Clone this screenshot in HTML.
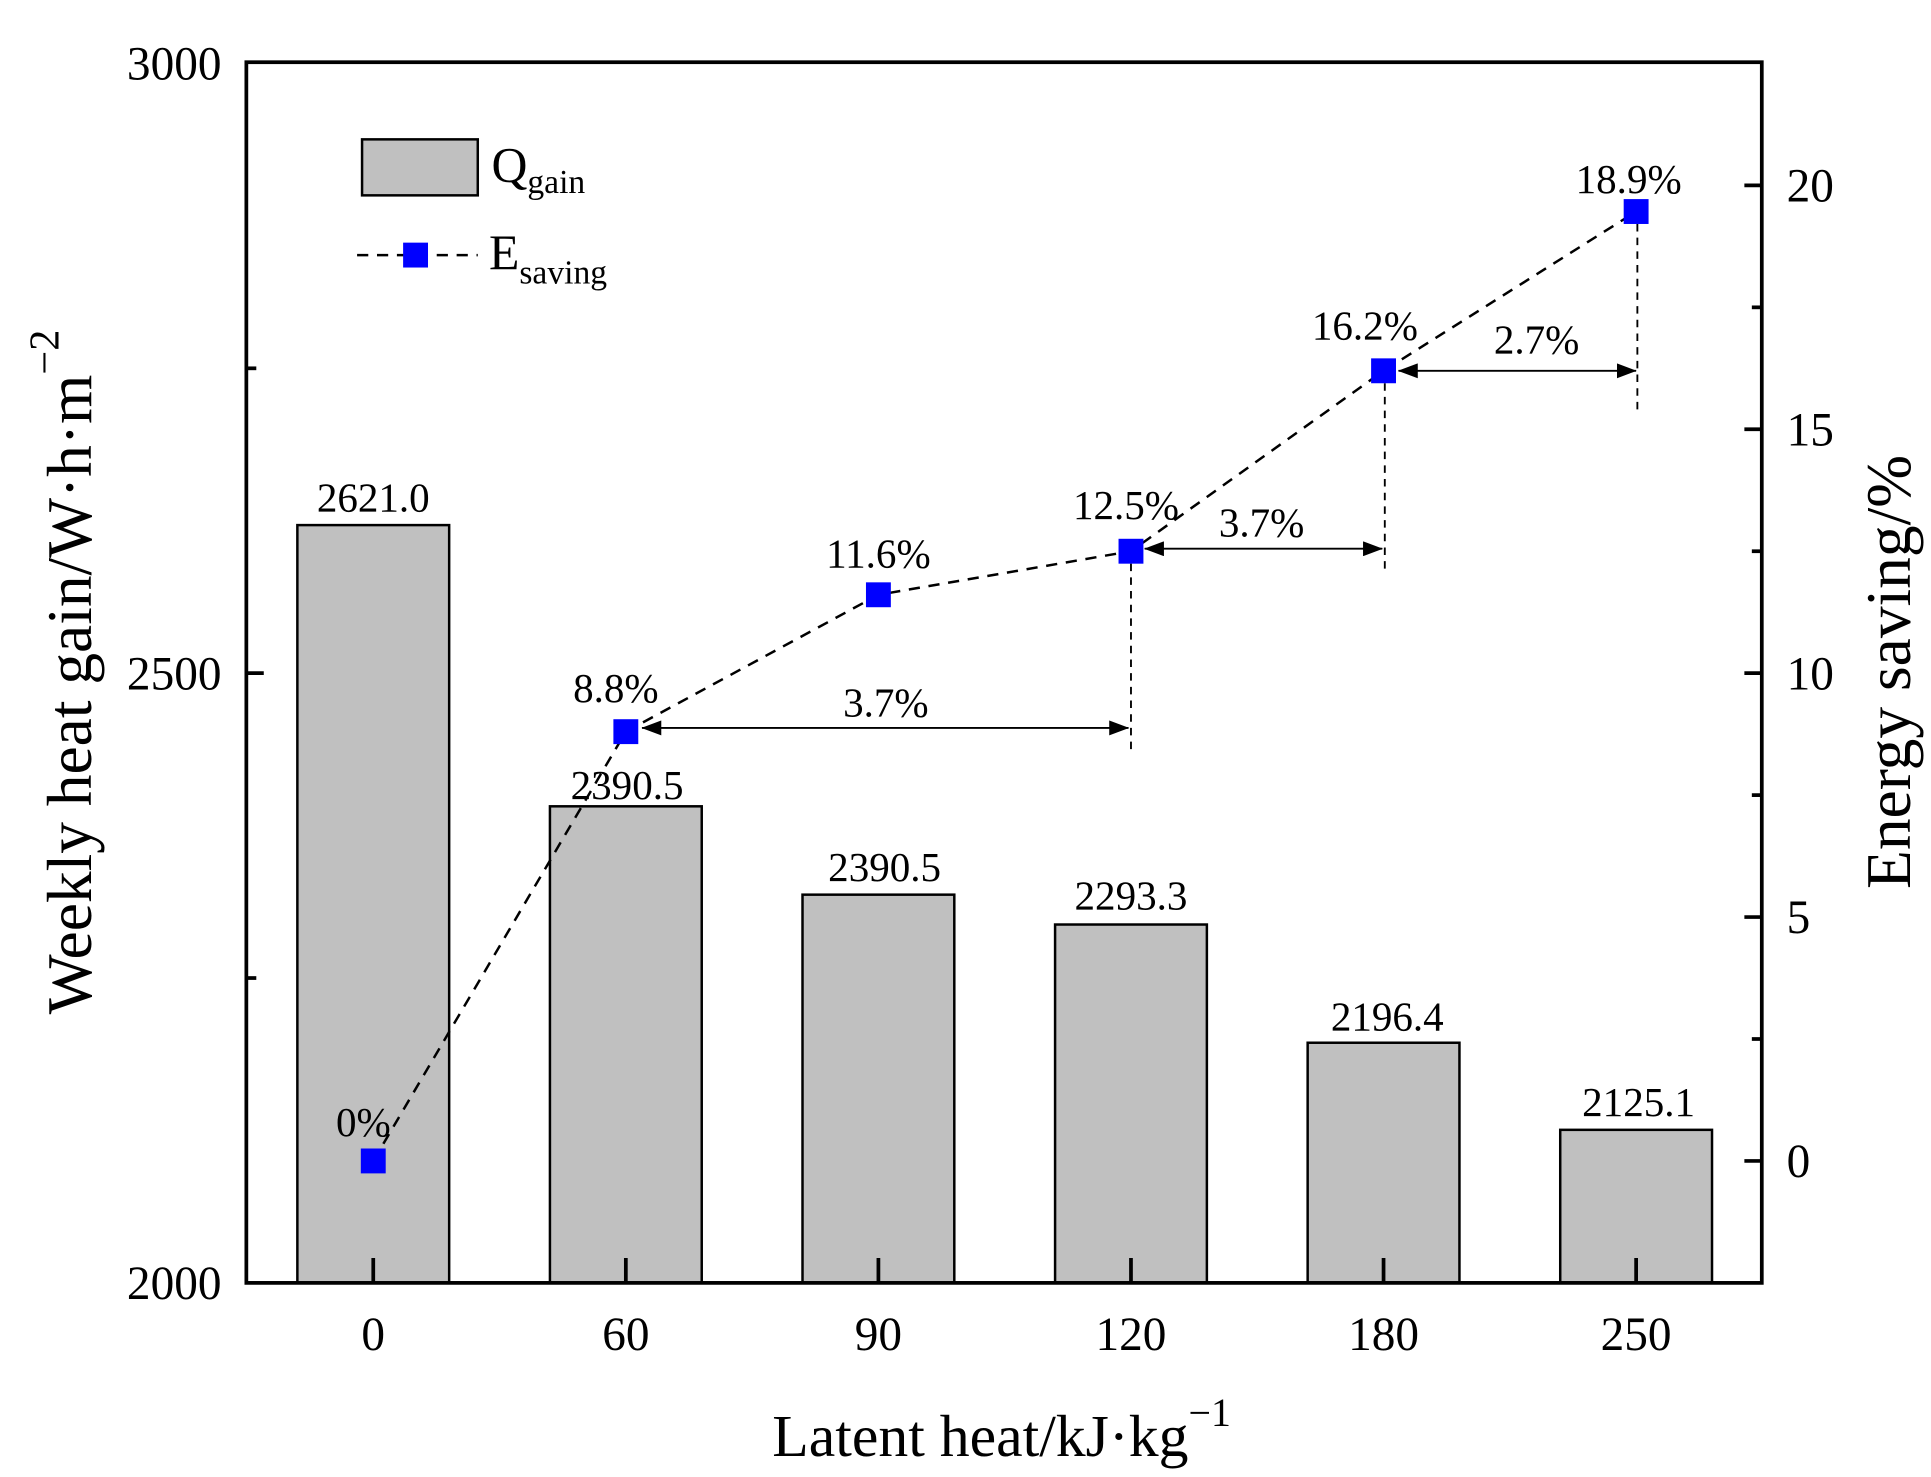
<!DOCTYPE html>
<html><head><meta charset="utf-8"><style>
html,body{margin:0;padding:0;background:#fff;}
svg{display:block;}
text{font-family:"Liberation Serif",serif;fill:#000;}
</style></head><body>
<svg width="1931" height="1477" viewBox="0 0 1552 1187" preserveAspectRatio="none" xmlns="http://www.w3.org/2000/svg">
<defs>
<marker id="ah" markerWidth="16" markerHeight="12" refX="15.5" refY="6" orient="auto-start-reverse" markerUnits="userSpaceOnUse"><path d="M0,0 L16,6 L0,12 Z" fill="#000"/></marker>
</defs>
<rect width="1552" height="1187" fill="#fff"/>
<g fill="#c0c0c0" stroke="#000" stroke-width="2">
<rect x="239" y="422" width="122" height="609"/>
<rect x="442" y="648" width="122" height="383"/>
<rect x="645" y="719" width="122" height="312"/>
<rect x="848" y="743" width="122" height="288"/>
<rect x="1051" y="838" width="122" height="193"/>
<rect x="1254" y="908" width="122" height="123"/>
</g>
<rect x="198" y="50" width="1218" height="981" fill="none" stroke="#000" stroke-width="3"/>
<g stroke="#000" stroke-width="3">
<line x1="198" y1="541" x2="212" y2="541"/><line x1="198" y1="296" x2="206" y2="296"/><line x1="198" y1="786" x2="206" y2="786"/>
<line x1="1416" y1="933" x2="1402" y2="933"/><line x1="1416" y1="737" x2="1402" y2="737"/><line x1="1416" y1="541" x2="1402" y2="541"/><line x1="1416" y1="345" x2="1402" y2="345"/><line x1="1416" y1="149" x2="1402" y2="149"/>
<line x1="1416" y1="835" x2="1408" y2="835"/><line x1="1416" y1="639" x2="1408" y2="639"/><line x1="1416" y1="443" x2="1408" y2="443"/><line x1="1416" y1="247" x2="1408" y2="247"/>
<line x1="300" y1="1031" x2="300" y2="1011"/><line x1="503" y1="1031" x2="503" y2="1011"/><line x1="706" y1="1031" x2="706" y2="1011"/><line x1="909" y1="1031" x2="909" y2="1011"/><line x1="1112" y1="1031" x2="1112" y2="1011"/><line x1="1315" y1="1031" x2="1315" y2="1011"/>
</g>
<g font-size="38" text-anchor="end">
<text x="178" y="64">3000</text><text x="178" y="554">2500</text><text x="178" y="1044">2000</text>
</g>
<g font-size="38" text-anchor="start">
<text x="1436" y="946">0</text><text x="1436" y="750">5</text><text x="1436" y="554">10</text><text x="1436" y="358">15</text><text x="1436" y="162">20</text>
</g>
<g font-size="38" text-anchor="middle">
<text x="300" y="1085">0</text><text x="503" y="1085">60</text><text x="706" y="1085">90</text><text x="909" y="1085">120</text><text x="1112" y="1085">180</text><text x="1315" y="1085">250</text>
</g>
<text x="805" y="1170" font-size="48" text-anchor="middle">Latent heat/kJ·kg<tspan font-size="32" dy="-24">−1</tspan></text>
<text transform="translate(73,540) rotate(-90)" font-size="51" text-anchor="middle">Weekly heat gain/W·h·m<tspan font-size="34" dy="-26">−2</tspan></text>
<text transform="translate(1535,540) rotate(-90)" font-size="51" text-anchor="middle">Energy saving/%</text>
<g font-size="33" text-anchor="middle">
<text x="300" y="411">2621.0</text><text x="504" y="642">2390.5</text><text x="711" y="708">2390.5</text><text x="909" y="731">2293.3</text><text x="1115" y="828">2196.4</text><text x="1317" y="897">2125.1</text>
</g>
<polyline points="300,933 503,588 706,478 909,443 1112,298 1315,170" fill="none" stroke="#000" stroke-width="2" stroke-dasharray="9,7"/>
<g stroke="#000" stroke-width="1.5" stroke-dasharray="6,5">
<line x1="909" y1="453" x2="909" y2="605"/>
<line x1="1113" y1="308" x2="1113" y2="458"/>
<line x1="1316" y1="180" x2="1316" y2="330"/>
</g>
<g stroke="#000" stroke-width="1.5">
<line x1="516" y1="585" x2="907" y2="585" marker-start="url(#ah)" marker-end="url(#ah)"/>
<line x1="920" y1="441" x2="1111" y2="441" marker-start="url(#ah)" marker-end="url(#ah)"/>
<line x1="1124" y1="298" x2="1315" y2="298" marker-start="url(#ah)" marker-end="url(#ah)"/>
</g>
<g font-size="33" text-anchor="middle">
<text x="712" y="576">3.7%</text><text x="1014" y="431">3.7%</text><text x="1235" y="284">2.7%</text>
<text x="292" y="913">0%</text><text x="495" y="564">8.8%</text><text x="706" y="456">11.6%</text><text x="905" y="417">12.5%</text><text x="1097" y="273">16.2%</text><text x="1309" y="155">18.9%</text>
</g>
<g fill="#0000ff">
<rect x="290" y="923" width="20" height="20"/>
<rect x="493" y="578" width="20" height="20"/>
<rect x="696" y="468" width="20" height="20"/>
<rect x="899" y="433" width="20" height="20"/>
<rect x="1102" y="288" width="20" height="20"/>
<rect x="1305" y="160" width="20" height="20"/>
</g>
<rect x="291" y="112" width="93" height="45" fill="#c0c0c0" stroke="#000" stroke-width="2"/>
<text x="395" y="146" font-size="40">Q<tspan font-size="27" dy="9">gain</tspan></text>
<line x1="287" y1="205" x2="384" y2="205" stroke="#000" stroke-width="2" stroke-dasharray="9,7"/>
<rect x="324" y="195" width="20" height="20" fill="#0000ff"/>
<text x="393" y="216" font-size="40">E<tspan font-size="27" dy="12">saving</tspan></text>
</svg>
</body></html>
